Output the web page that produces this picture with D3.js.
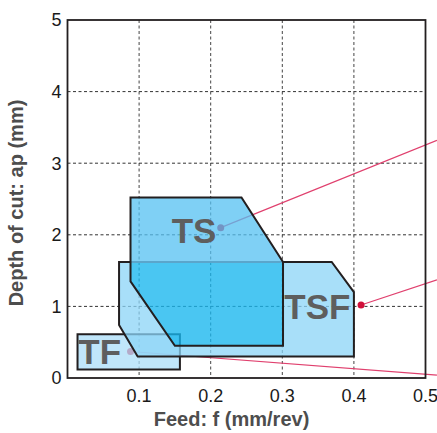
<!DOCTYPE html>
<html>
<head>
<meta charset="utf-8">
<script src="https://cdn.jsdelivr.net/npm/d3@7"></script>
<style>
  body { margin: 0; background: #fff; }
  text { font-family: "Liberation Sans", Arial, Helvetica, sans-serif; }
</style>
</head>
<body>
<script>
var w = 437;
var h = 433;

// axis ticks
var xTicks = [0.1, 0.2, 0.3, 0.4, 0.5];
var yTicks = [0, 1, 2, 3, 4, 5];

// application areas (feed, depth of cut)
var tfArea = [[0.014, 0.61], [0.157, 0.61], [0.157, 0.12], [0.014, 0.12]];
var tsfArea = [[0.072, 1.62], [0.369, 1.62], [0.400, 1.20], [0.400, 0.30], [0.098, 0.30], [0.072, 0.74]];
var tsArea = [[0.088, 2.52], [0.243, 2.52], [0.301, 1.62], [0.301, 0.45], [0.150, 0.45], [0.088, 1.35]];

// label names and where they sit (data units)
var labelNames = ["TS", "TSF", "TF"];
var labelPos = [[0.1455, 1.89], [0.3028, 0.83], [0.0151, 0.19]];

// leader lines: dot -> end point at the right
var leaderNames = ["TS", "TSF", "TF"];
var leaderFrom = [[0.214, 2.10], [0.410, 1.02], [0.088, 0.37]];
var leaderTo = [[0.516, 3.32], [0.516, 1.37], [0.516, 0.04]];

var margin = {left: 67.5, top: 20, right: 11.5, bottom: 55};
var pw = w - margin.left - margin.right;
var ph = h - margin.top - margin.bottom;

var x = d3.scaleLinear().domain([0, 0.5]).range([margin.left, margin.left + pw]);
var y = d3.scaleLinear().domain([0, 5]).range([margin.top + ph, margin.top]);

var svg = d3.select("body").append("svg")
            .attr("width", w)
            .attr("height", h);

var line = d3.line().x(function(d){return x(d[0]);}).y(function(d){return y(d[1]);});
function poly(pts){ return line(pts) + "Z"; }

// defs for the overlap shading
var defs = svg.append("defs");
defs.append("clipPath").attr("id", "inTSF")
    .append("path").attr("d", poly(tsfArea));
defs.append("clipPath").attr("id", "inTS")
    .append("path").attr("d", poly(tsArea));
var m1 = defs.append("mask").attr("id", "noTSF");
m1.append("rect").attr("width", w).attr("height", h).style("fill", "#fff");
m1.append("path").attr("d", poly(tsfArea)).style("fill", "#000");
var m2 = defs.append("mask").attr("id", "noTS");
m2.append("rect").attr("width", w).attr("height", h).style("fill", "#fff");
m2.append("path").attr("d", poly(tsArea)).style("fill", "#000");

// grid
var grid = svg.append("g");
grid.selectAll(".vg").data(xTicks.slice(0, -1)).enter().append("line")
    .attr("x1", function(d){return x(d);}).attr("x2", function(d){return x(d);})
    .attr("y1", y(5)).attr("y2", y(0))
    .style("stroke", "#444").style("stroke-width", 1).style("stroke-dasharray", "3,2.5");
grid.selectAll(".hg").data(yTicks.slice(1, -1)).enter().append("line")
    .attr("x1", x(0)).attr("x2", x(0.5))
    .attr("y1", function(d){return y(d);}).attr("y2", function(d){return y(d);})
    .style("stroke", "#333").style("stroke-width", 1).style("stroke-dasharray", "3,2.5");

// leader lines (under the areas)
var leaders = svg.append("g");
leaders.selectAll("line").data(d3.range(leaderNames.length)).enter().append("line")
    .attr("x1", function(i){return x(leaderFrom[i][0]);})
    .attr("y1", function(i){return y(leaderFrom[i][1]);})
    .attr("x2", function(i){return x(leaderTo[i][0]);})
    .attr("y2", function(i){return y(leaderTo[i][1]);})
    .style("stroke", "#e0406e").style("stroke-width", 1.2);
leaders.selectAll("circle").data(d3.range(leaderNames.length)).enter().append("circle")
    .attr("cx", function(i){return x(leaderFrom[i][0]);})
    .attr("cy", function(i){return y(leaderFrom[i][1]);})
    .attr("r", 3.5)
    .style("fill", "#d0103a");

// TF
svg.append("path").attr("d", poly(tfArea))
    .style("fill", "#abdef8").style("fill-opacity", 0.75)
    .style("stroke", "#231f20").style("stroke-width", 2);

// TSF
svg.append("path").attr("d", poly(tsfArea)).attr("mask", "url(#noTS)")
    .style("fill", "#8bd4f7").style("fill-opacity", 0.75);
svg.append("path").attr("d", poly(tsfArea)).attr("mask", "url(#noTS)")
    .style("fill", "none").style("stroke", "#231f20").style("stroke-width", 2);

// TS
svg.append("path").attr("d", poly(tsArea)).attr("mask", "url(#noTSF)")
    .style("fill", "#54c0f2").style("fill-opacity", 0.75);
svg.append("path").attr("d", poly(tsArea)).attr("clip-path", "url(#inTSF)")
    .style("fill", "#17b6ee").style("fill-opacity", 0.78);
// TSF outline seen through TS
svg.append("path").attr("d", poly(tsfArea)).attr("clip-path", "url(#inTS)")
    .style("fill", "none").style("stroke", "#5aa6cc").style("stroke-width", 2);
svg.append("path").attr("d", poly(tsArea))
    .style("fill", "none").style("stroke", "#231f20").style("stroke-width", 2);

// area labels
svg.selectAll(".lbl").data(d3.range(labelNames.length)).enter().append("text")
    .attr("x", function(i){return x(labelPos[i][0]);})
    .attr("y", function(i){return y(labelPos[i][1]);})
    .text(function(i){return labelNames[i];})
    .style("font-size", "35px").style("font-weight", "bold")
    .style("fill", "#5e5e5e");

// frame
svg.append("rect")
    .attr("x", x(0)).attr("y", y(5))
    .attr("width", x(0.5) - x(0)).attr("height", y(0) - y(5))
    .style("fill", "none").style("stroke", "#231f20").style("stroke-width", 1.8);

// tick labels
svg.selectAll(".xt").data(xTicks).enter().append("text")
    .attr("x", function(d){return x(d);})
    .attr("y", y(0) + 24)
    .attr("text-anchor", "middle")
    .text(function(d){return d3.format(".1f")(d);})
    .style("font-size", "18px").style("fill", "#1a1a1a");
svg.selectAll(".yt").data(yTicks).enter().append("text")
    .attr("x", x(0) - 6)
    .attr("y", function(d){return y(d);})
    .attr("dy", "0.36em")
    .attr("text-anchor", "end")
    .text(function(d){return d;})
    .style("font-size", "18px").style("fill", "#1a1a1a");

// axis titles
svg.append("text")
    .attr("x", (x(0) + x(0.5)) / 2 - 15)
    .attr("y", 426)
    .attr("text-anchor", "middle")
    .text("Feed: f (mm/rev)")
    .style("font-size", "20px").style("font-weight", "bold").style("fill", "#4d4d4d");
svg.append("text")
    .attr("transform", "translate(23," + 203 + ") rotate(-90)")
    .attr("text-anchor", "middle")
    .text("Depth of cut: ap (mm)")
    .style("font-size", "20px").style("font-weight", "bold").style("fill", "#4d4d4d");
</script>
</body>
</html>
